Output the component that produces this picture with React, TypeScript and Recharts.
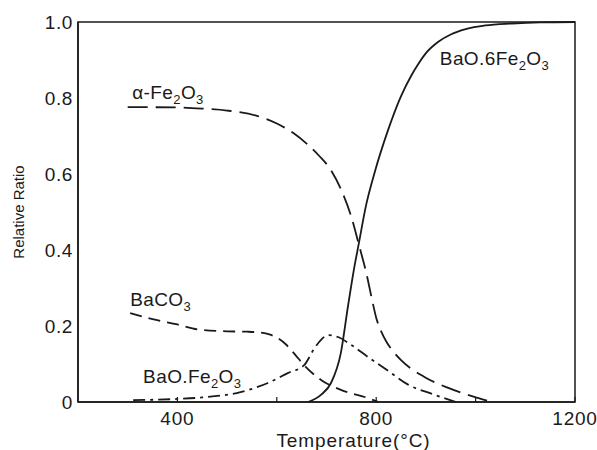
import { LineChart, Line, XAxis, YAxis, ReferenceArea, ReferenceDot } from "recharts";

// temperatures (°C) and relative ratios
const hematiteT = [300, 400, 450, 500, 560, 600, 634, 660, 685, 709, 729, 750, 766, 780, 794, 800, 810, 820, 836, 850, 897, 945, 1006, 1032];
const hematiteV = [0.776, 0.775, 0.772, 0.767, 0.753, 0.733, 0.707, 0.68, 0.648, 0.61, 0.56, 0.487, 0.41, 0.34, 0.255, 0.222, 0.186, 0.16, 0.13, 0.11, 0.066, 0.037, 0.01, 0];

const carbonateT = [305, 350, 400, 446, 500, 540, 565, 585, 602, 618, 636, 655, 689, 729, 784, 804];
const carbonateV = [0.234, 0.218, 0.204, 0.19, 0.186, 0.185, 0.183, 0.178, 0.168, 0.152, 0.126, 0.097, 0.058, 0.032, 0.01, 0];

const monoferriteT = [311, 400, 450, 527, 582, 622, 655, 675, 690, 703, 723, 750, 784, 824, 865, 911, 960];
const monoferriteV = [0.005, 0.008, 0.012, 0.026, 0.05, 0.076, 0.097, 0.14, 0.165, 0.176, 0.171, 0.15, 0.118, 0.082, 0.045, 0.022, 0];

const hexaferriteT = [663, 690, 709, 729, 743, 756, 764, 780, 796, 824, 850, 871, 885, 900, 925, 950, 980, 1020, 1073, 1130, 1200];
const hexaferriteV = [0, 0.02, 0.05, 0.13, 0.25, 0.355, 0.41, 0.52, 0.6, 0.716, 0.805, 0.86, 0.89, 0.918, 0.948, 0.967, 0.981, 0.991, 0.996, 0.999, 1.0];

const xTicks = [400, 600, 800, 1000, 1200];
const xLabelTicks = [400, 800, 1200];
const yTicks = [0, 0.2, 0.4, 0.6, 0.8, 1.0];

// curve names: [text, subscript, text, subscript] anchored at (temperature, ratio)
const curveLabels = [
  { t: 309, v: 0.797, parts: ["α-Fe", "2", "O", "3"] },
  { t: 305, v: 0.253, parts: ["BaCO", "3"] },
  { t: 331, v: 0.05, parts: ["BaO.Fe", "2", "O", "3"] },
  { t: 928, v: 0.887, parts: ["BaO.6Fe", "2", "O", "3"] },
];

const toPoints = (ts: number[], vs: number[]) => ts.map((t, i) => ({ t, v: vs[i] }));

const FONT = "'Liberation Sans', Arial, Helvetica, sans-serif";
const INK = "#1a1a1a";

function XTick(props: any) {
  const { x, y, payload } = props;
  return (
    <g>
      <line x1={x} x2={x} y1={y} y2={y - 5} stroke={INK} strokeWidth={1.2} />
      {xLabelTicks.includes(payload.value) && (
        <text x={x} y={y + 23} textAnchor="middle" fontSize={19} letterSpacing={0.8} fill={INK} fontFamily={FONT}>
          {payload.value}
        </text>
      )}
    </g>
  );
}

function CurveName({ viewBox, parts }: any) {
  const { x, y } = viewBox;
  return (
    <text x={x} y={y} fontSize={19} fill={INK} fontFamily={FONT} letterSpacing={0.4}>
      {parts.map((p: string, i: number) =>
        i % 2 === 1 ? (
          <tspan key={i} fontSize={13} dy={5}>{p}</tspan>
        ) : (
          <tspan key={i} dy={i === 0 ? 0 : -5}>{p}</tspan>
        )
      )}
    </text>
  );
}

export default function App() {
  return (
    <div style={{ position: "absolute", left: 0, top: 0, background: "#fff" }}>
      <LineChart width={597} height={450} margin={{ top: 22, right: 22, bottom: 18, left: 0 }}>
        <XAxis
          type="number"
          dataKey="t"
          domain={[200, 1200]}
          ticks={xTicks}
          tick={<XTick />}
          tickLine={false}
          tickSize={0}
          tickMargin={0}
          height={30}
          axisLine={{ stroke: INK, strokeWidth: 1.5 }}
          allowDuplicatedCategory={false}
          label={{
            content: ({ viewBox }: any) => (
              <text x={viewBox.x + viewBox.width / 2 + 27} y={viewBox.y + 45} textAnchor="middle" fontSize={19} fill={INK} fontFamily={FONT} letterSpacing={0.9}>
                Temperature(°C)
              </text>
            ),
          }}
        />
        <YAxis
          type="number"
          domain={[0, 1]}
          ticks={yTicks}
          width={78}
          tickLine={false}
          tickSize={0}
          tickMargin={5}
          axisLine={{ stroke: INK, strokeWidth: 1.5 }}
          tick={{ fill: INK, fontSize: 19, fontFamily: FONT, letterSpacing: 0.6 }}
          tickFormatter={(v: number) => (v === 0 ? "0" : v.toFixed(1))}
          label={{
            content: ({ viewBox }: any) => {
              const cy = viewBox.y + viewBox.height / 2;
              return (
                <text x={20} y={cy} transform={`rotate(-90, 20, ${cy})`} textAnchor="middle" dominantBaseline="middle" fontSize={15} fill={INK} fontFamily={FONT}>
                  Relative Ratio
                </text>
              );
            },
          }}
        />
        <ReferenceArea x1={200} x2={1200} y1={0} y2={1} fill="none" stroke={INK} strokeWidth={1.5} fillOpacity={0} />
        <Line data={toPoints(hematiteT, hematiteV)} dataKey="v" type="monotone" stroke={INK} strokeWidth={1.8} strokeDasharray="20 8" dot={false} isAnimationActive={false} />
        <Line data={toPoints(carbonateT, carbonateV)} dataKey="v" type="monotone" stroke={INK} strokeWidth={1.8} strokeDasharray="12 7" dot={false} isAnimationActive={false} />
        <Line data={toPoints(monoferriteT, monoferriteV)} dataKey="v" type="monotone" stroke={INK} strokeWidth={1.8} strokeDasharray="12 5 3 5" dot={false} isAnimationActive={false} />
        <Line data={toPoints(hexaferriteT, hexaferriteV)} dataKey="v" type="monotone" stroke={INK} strokeWidth={1.8} dot={false} isAnimationActive={false} />
        {curveLabels.map((c) => (
          <ReferenceDot
            key={c.parts.join("")}
            x={c.t}
            y={c.v}
            r={0}
            fill="none"
            stroke="none"
            label={{ content: (p: any) => <CurveName viewBox={p.viewBox} parts={c.parts} /> }}
          />
        ))}
      </LineChart>
    </div>
  );
}
